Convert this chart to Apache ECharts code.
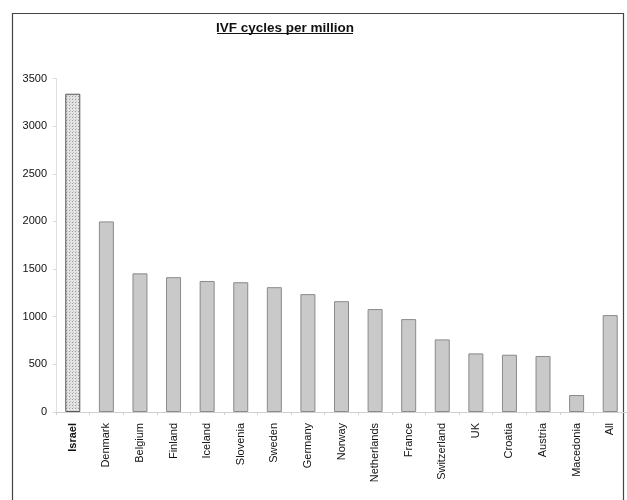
<!DOCTYPE html>
<html>
<head>
<meta charset="utf-8">
<script src="https://cdn.jsdelivr.net/npm/echarts@6/dist/echarts.min.js"></script>
<style>
  html, body { margin: 0; padding: 0; background: #fff; }
  #chart { width: 627px; height: 500px; }
</style>
</head>
<body>
<div id="chart"></div>
<script>
// IVF cycles per million inhabitants, by country
const countries = ['Israel', 'Denmark', 'Belgium', 'Finland', 'Iceland', 'Slovenia', 'Sweden',
  'Germany', 'Norway', 'Netherlands', 'France', 'Switzerland', 'UK', 'Croatia', 'Austria',
  'Macedonia', 'All'];
const cycles = [3340, 2000, 1455, 1415, 1375, 1362, 1310, 1237, 1163, 1080, 975, 762, 615, 601, 588, 178, 1017];
const yTicks = [0, 500, 1000, 1500, 2000, 2500, 3000, 3500];
const titleText = 'IVF cycles per million';

// dotted fill for the highlighted bar
function dotPattern() {
  const c = document.createElement('canvas');
  c.width = 3; c.height = 3;
  const g = c.getContext('2d');
  g.fillStyle = '#e4e4e4';
  g.fillRect(0, 0, 3, 3);
  g.fillStyle = '#9a9a9a';
  g.fillRect(0, 0, 1, 1);
  g.fillStyle = '#c4c4c4';
  g.fillRect(1, 2, 1, 1);
  return c;
}

const font = "'Liberation Sans', Arial, sans-serif";

const barData = cycles.map((v, i) => {
  if (i === 0) {
    return {
      value: v,
      itemStyle: { color: { image: dotPattern(), repeat: 'repeat' }, borderColor: '#555', borderWidth: 1 }
    };
  }
  return v;
});

// the first country is highlighted with a bold label
const categoryData = countries.map((name, i) =>
  i === 0 ? { value: name, textStyle: { fontWeight: 'bold' } } : name);

const chart = echarts.init(document.getElementById('chart'), null, { renderer: 'canvas' });
chart.setOption({
  animation: false,
  backgroundColor: '#fff',
  title: {
    text: titleText,
    left: 280,
    textAlign: 'center',
    top: 16,
    textStyle: { fontFamily: font, fontSize: 13.5, fontWeight: 'bold', color: '#111' }
  },
  graphic: [
    { type: 'line', shape: { x1: 217, y1: 33.5, x2: 353, y2: 33.5 }, style: { stroke: '#111', lineWidth: 1 } },
    { type: 'rect', shape: { x: 12.5, y: 13.5, width: 611, height: 500 }, style: { fill: 'none', stroke: '#444', lineWidth: 1.2 } }
  ],
  grid: { left: 56, right: -4, top: 78.5, bottom: 88 },
  xAxis: {
    type: 'category',
    data: categoryData,
    axisLine: { lineStyle: { color: '#d0d0d0' } },
    axisTick: { show: true, alignWithLabel: false, length: 3, lineStyle: { color: '#d0d0d0' } },
    axisLabel: {
      rotate: 90, interval: 0, margin: 11,
      fontFamily: font, fontSize: 11, color: '#111'
    }
  },
  yAxis: {
    type: 'value',
    min: 0, max: 3500, interval: 500,
    axisLine: { show: true, lineStyle: { color: '#e0e0e0' } },
    axisTick: { show: true, length: 3, lineStyle: { color: '#d8d8d8' } },
    splitLine: { show: false },
    axisLabel: {
      margin: 9, fontFamily: font, fontSize: 11, color: '#111',
      formatter: v => yTicks.includes(v) ? String(v) : ''
    }
  },
  series: [{
    type: 'bar',
    data: barData,
    barWidth: 15,
    itemStyle: { color: '#c9c9c9', borderColor: '#8a8a8a', borderWidth: 1 }
  }]
});
</script>
</body>
</html>
